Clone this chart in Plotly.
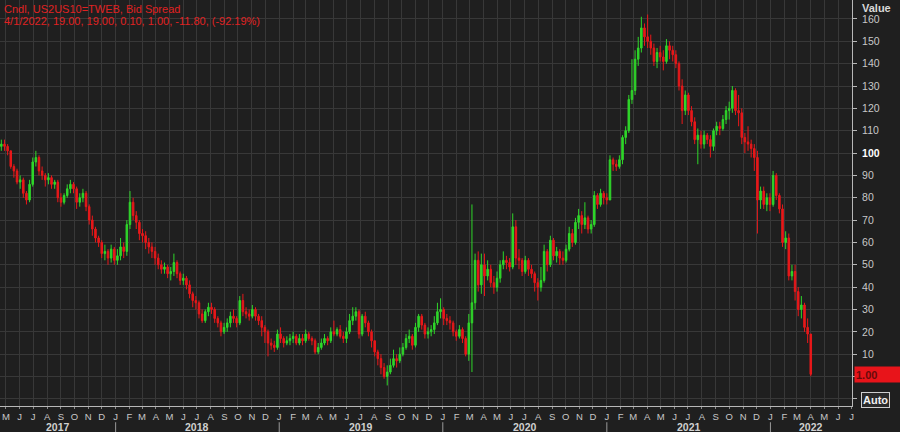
import pandas as pd
import plotly.graph_objects as go

# ---------------- data (weekly candles, bp) ----------------
first_open = 103
close = [
    # 2017
    104, 103,
    101, 94, 92, 87,
    88, 82, 79, 86, 96,
    98, 92, 90, 88,
    89, 86, 87, 80,
    78, 81, 84, 86, 84,
    78, 80, 82, 76,
    70, 66, 62, 60,
    55, 56, 53, 57, 52,
    # 2018
    54, 58, 56, 68,
    78, 72, 69, 64,
    63, 60, 58, 56, 53,
    50, 48, 49, 46,
    47, 51, 46, 43,
    44, 41, 37, 34, 33,
    28, 25, 29, 31,
    30, 26, 24, 20, 22,
    24, 27, 26, 24,
    34, 29, 28, 27,
    30, 27, 25, 22, 20,
    15, 14, 13, 19,
    # 2019
    17, 15, 16, 17,
    18, 15, 17, 16,
    19, 17, 16, 11, 13,
    15, 17, 16, 20,
    19, 21, 18, 17, 20,
    25, 27, 29, 19,
    27, 24, 20, 16,
    11, 8, 4, 0, 2,
    5, 8, 7, 10,
    13, 17, 18, 14,
    22, 27, 23, 19, 20,
    21, 24, 29, 30,
    # 2020
    26, 25, 24, 20, 18,
    21, 17, 10, 24,
    33, 52, 41, 50,
    45, 48, 42, 40,
    44, 50, 52, 51, 49,
    67, 53, 52, 47,
    52, 48, 46, 42, 40,
    43, 56, 50, 61,
    54, 56, 53, 52,
    57, 64, 60, 69, 72,
    68, 71, 66, 68,
    81, 77, 82, 80,
    # 2021
    79, 97, 95, 94, 97,
    107, 110, 124, 128,
    142, 147, 156, 152,
    150, 147, 141, 145, 143,
    141, 148, 146, 144,
    140, 130, 119, 126,
    119, 114, 106, 108, 104,
    108, 106, 103, 110,
    112, 111, 115, 119,
    120, 128, 119, 118, 107,
    105, 104, 102, 98,
    79, 83, 77, 80, 77,
    # 2022
    90, 81, 75, 60,
    62, 45, 47, 38,
    30, 32, 22, 19,
    1,
]
high = [
    # 2017
    106, 106, 104, 101, 95, 93, 90, 89, 83, 88, 98, 101, 99, 94, 91, 91, 90, 88, 88,
    82, 82, 86, 88, 87, 85, 82, 84, 83, 77, 72, 67, 63, 61, 59, 57, 59, 58,
    # 2018
    57, 62, 60, 70, 83, 80, 74, 70, 66, 65, 62, 60, 58, 55, 52, 51, 50, 49, 55, 52, 47,
    46, 45, 43, 38, 36, 34, 30, 30, 33, 33, 31, 27, 25, 24, 26, 29, 30, 27, 36, 37, 31, 30,
    32, 31, 28, 27, 23, 21, 17, 16, 21,
    # 2019
    22, 18, 18, 19, 20, 19, 19, 19, 21, 20, 18, 17, 15, 17, 19, 18, 22, 25, 22, 23, 20, 22,
    28, 31, 31, 30, 28, 29, 25, 21, 16, 12, 10, 6, 5, 8, 12, 10, 13, 15, 19, 21, 19,
    24, 28, 28, 24, 22, 23, 27, 33, 35,
    # 2020
    31, 28, 27, 25, 21, 23, 22, 18, 28, 77, 55, 56, 55, 55, 52, 50, 45, 47, 52, 56, 54, 53,
    73, 70, 57, 53, 54, 53, 50, 47, 44, 49, 59, 57, 63, 62, 58, 57, 56, 59, 67, 66, 71, 75,
    74, 78, 72, 70, 83, 82, 84, 83,
    # 2021
    82, 99, 98, 97, 99, 108, 112, 126, 142, 146, 152, 161, 158, 162, 153, 149, 147, 148,
    146, 151, 150, 148, 146, 141, 133, 128, 127, 121, 116, 111, 110, 110, 109, 108, 111,
    114, 114, 117, 121, 123, 130, 129, 126, 120, 109, 112, 106, 104, 101, 85, 85, 82, 82,
    # 2022
    92, 91, 82, 77, 65, 64, 50, 50, 40, 36, 33, 26, 19,
]
low = [
    # 2017
    101, 101, 99, 93, 89, 86, 84, 80, 77, 78, 85, 94, 90, 88, 85, 86, 84, 84, 78,
    76, 77, 80, 82, 82, 75, 76, 78, 74, 68, 63, 60, 58, 53, 52, 50, 51, 50,
    # 2018
    50, 52, 53, 54, 66, 70, 66, 61, 60, 57, 55, 53, 50, 48, 46, 46, 44, 43, 45, 44, 41,
    41, 39, 35, 31, 30, 26, 24, 24, 27, 28, 24, 22, 18, 19, 20, 22, 24, 22, 23, 27, 26, 25,
    26, 25, 23, 18, 15, 9, 12, 11, 12,
    # 2019
    15, 13, 14, 14, 15, 14, 14, 14, 15, 16, 14, 10, 10, 12, 14, 14, 15, 18, 18, 17, 15, 15,
    19, 23, 25, 17, 18, 22, 18, 13, 9, 5, 1, -1, -4, 1, 4, 4, 6, 9, 12, 15, 12,
    13, 20, 21, 17, 17, 18, 19, 23, 26,
    # 2020
    23, 23, 21, 18, 16, 17, 15, 9, 7, 2, 30, 38, 37, 36, 43, 40, 37, 38, 42, 48, 48, 47,
    48, 50, 48, 45, 46, 45, 44, 38, 34, 38, 42, 47, 49, 52, 51, 50, 50, 51, 56, 58, 59, 66,
    64, 66, 64, 64, 67, 75, 76, 77,
    # 2021
    77, 79, 92, 92, 93, 95, 104, 109, 122, 126, 139, 145, 148, 147, 144, 139, 138, 141,
    137, 140, 142, 141, 138, 128, 113, 117, 117, 112, 104, 95, 102, 102, 104, 98, 101,
    108, 108, 110, 113, 115, 118, 117, 112, 104, 100, 101, 98, 92, 64, 75, 75, 74, 74,
    # 2022
    76, 79, 73, 58, 57, 43, 43, 34, 27, 26, 20, 15, 0.1,
]
assert len(close) == len(high) == len(low), (len(close), len(high), len(low))

open_ = [first_open] + close[:-1]
dates = pd.date_range(end="2022-04-01", periods=len(close), freq="W-FRI")

header_line1 = "Cndl, US2US10=TWEB, Bid Spread"
header_line2 = "4/1/2022, 19.00, 19.00, 0.10, 1.00, -11.80, (-92.19%)"
last_value_label = "1.00"
last_value = 1.0
month_letters = list("JFMAMJJASOND")
years = [2017, 2018, 2019, 2020, 2021, 2022]
y_ticks = list(range(-10, 170, 10))

# ---------------- styling ----------------
BG = "#1f1f1f"
GRID = "#383838"
AXIS = "#b8b8b8"
TXT = "#c8c8c8"
GREEN = "#2fd62a"
RED = "#e8181a"
FONT = "Liberation Sans, Arial, sans-serif"

x_start, x_end = "2017-04-18", "2022-07-02"

fig = go.Figure(go.Candlestick(
    x=dates, open=open_, high=high, low=low, close=close,
    increasing=dict(line=dict(color=GREEN, width=1), fillcolor=GREEN),
    decreasing=dict(line=dict(color=RED, width=1), fillcolor=RED),
    whiskerwidth=0, showlegend=False, hoverinfo="skip",
))

month_starts = pd.date_range("2017-05-01", "2022-07-01", freq="MS")
month_text = [month_letters[d.month - 1] for d in month_starts]

ytext = []
for v in y_ticks:
    if v <= 0:
        ytext.append("")
    elif v == 100:
        ytext.append("<b><span style='color:#ffffff'>100</span></b>")
    else:
        ytext.append(str(v))

fig.update_layout(
    width=900, height=432,
    margin=dict(l=0, r=48, t=0, b=26),
    paper_bgcolor=BG, plot_bgcolor=BG,
    font=dict(family=FONT, color=TXT, size=11),
    xaxis=dict(
        type="date", range=[x_start, x_end],
        rangeslider=dict(visible=False),
        tickvals=month_starts, ticktext=month_text,
        showgrid=True, gridcolor=GRID, gridwidth=1,
        showline=True, linecolor=AXIS, linewidth=1,
        ticks="outside", ticklen=2, tickcolor="#8a8a8a",
        tickfont=dict(size=9.5, color=TXT, family=FONT),
        zeroline=False, fixedrange=True, automargin=False,
    ),
    yaxis=dict(
        side="right", range=[-13.2, 168.5],
        tickvals=y_ticks, ticktext=ytext,
        showgrid=True, gridcolor=GRID, gridwidth=1,
        showline=True, linecolor=AXIS, linewidth=1,
        ticks="outside", ticklen=4, tickcolor=AXIS,
        ticklabelstandoff=3,
        tickfont=dict(size=10.5, color=TXT, family=FONT),
        zeroline=False, fixedrange=True, automargin=False,
    ),
)

annotations = [
    dict(text=header_line1, xref="paper", yref="paper", x=0, y=1, xanchor="left", yanchor="top",
         xshift=2, yshift=-1, showarrow=False, font=dict(size=11, color="#e02222", family=FONT)),
    dict(text=header_line2, xref="paper", yref="paper", x=0, y=1, xanchor="left", yanchor="top",
         xshift=2, yshift=-13, showarrow=False, font=dict(size=11, color="#e02222", family=FONT)),
    dict(text="<b>Value</b>", xref="paper", yref="paper", x=1, y=1, xanchor="left", yanchor="top",
         xshift=8, yshift=0, showarrow=False, font=dict(size=11, color="#d8d8d8", family=FONT)),
    dict(text="<b>" + last_value_label + "</b>", xref="paper", yref="y", x=1, y=last_value,
         xanchor="left", yanchor="middle", xshift=2, showarrow=False, align="left",
         width=44, height=13, bgcolor="#e8141a", borderpad=1,
         font=dict(size=11, color="#6a0a0a", family=FONT)),
    dict(text="<b>Auto</b>", xref="paper", yref="paper", x=1, y=0, xanchor="left", yanchor="middle",
         xshift=9, yshift=6, showarrow=False, bgcolor="#2a2a2a", bordercolor="#cfcfcf",
         borderwidth=1, borderpad=1, font=dict(size=11, color="#f0f0f0", family=FONT)),
]

rs, re_ = pd.Timestamp(x_start), pd.Timestamp(x_end)
shapes = []
for yr in years:
    a = max(pd.Timestamp(f"{yr}-01-01"), rs)
    b = min(pd.Timestamp(f"{yr + 1}-01-01"), re_)
    mid = a + (b - a) / 2
    annotations.append(dict(text=f"<b>{yr}</b>", xref="x", yref="paper", x=mid, y=-0.052,
                            xanchor="center", yanchor="middle", showarrow=False,
                            font=dict(size=10.5, color="#d0d0d0", family=FONT)))
    if yr > years[0]:
        shapes.append(dict(type="line", xref="x", yref="paper",
                           x0=f"{yr}-01-01", x1=f"{yr}-01-01", y0=-0.04, y1=-0.066,
                           line=dict(color="#9a9a9a", width=1)))

fig.update_layout(annotations=annotations, shapes=shapes)

fig.write_html(
    "out.html",
    config={"displayModeBar": False},
    post_script="document.body.style.margin='0';document.body.style.padding='0';"
                "document.body.style.background='#1f1f1f';",
)
